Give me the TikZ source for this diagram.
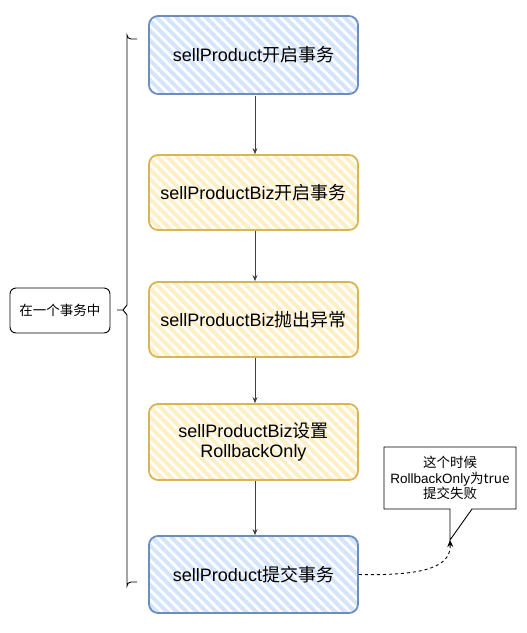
\documentclass[tikz,border=0pt]{standalone}
\usepackage{fontspec}
\setmainfont{Liberation Sans}
\newfontfamily\cjk{Noto Sans CJK SC}
\usetikzlibrary{patterns.meta,arrows.meta}
\definecolor{bluefill}{HTML}{D4E4FB}
\definecolor{blueline}{HTML}{6C8EBF}
\definecolor{yelfill}{HTML}{FFEFC2}
\definecolor{yelline}{HTML}{D6B656}
\tikzset{
  bluebox/.style={draw=blueline, line width=1.8pt, rounded corners=9pt,
    pattern={Lines[angle=-45,distance=7pt,line width=4pt]}, pattern color=bluefill,
    minimum width=209pt, minimum height=78pt, align=center, font=\fontsize{18}{20}\selectfont, inner sep=0pt},
  yelbox/.style={draw=yelline, line width=1.8pt, rounded corners=9pt,
    pattern={Lines[angle=-45,distance=7pt,line width=4pt]}, pattern color=yelfill,
    minimum width=209pt, minimum height=75pt, align=center, font=\fontsize{18}{20}\selectfont, inner sep=0pt},
  flowarrow/.style={draw=black!75, line width=0.8pt, -{Stealth[length=6pt,width=5pt]}},
  smalltext/.style={font=\fontsize{13.5}{15.5}\selectfont, align=center}
}
\begin{document}
\begin{tikzpicture}[x=1pt,y=-1pt]
\useasboundingbox (0,0) rectangle (527,633);
\node[bluebox] (b1) at (253.5,55) {sellProduct\cjk{开启事务}};
\node[yelbox] (b2) at (253.5,192.5) {sellProductBiz\cjk{开启事务}};
\node[yelbox] (b3) at (253.5,319.5) {sellProductBiz\cjk{抛出异常}};
\node[yelbox, minimum height=76pt] (b4) at (253.5,442) {sellProductBiz\cjk{设置}\\RollbackOnly};
\node[bluebox, minimum height=77pt] (b5) at (253.5,574.5) {sellProduct\cjk{提交事务}};
\draw[flowarrow] (b1.south -| 255,0) -- (b2.north -| 255,0);
\draw[flowarrow] (b2.south -| 255,0) -- (b3.north -| 255,0);
\draw[flowarrow] (b3.south -| 255,0) -- (b4.north -| 255,0);
\draw[flowarrow] (b4.south -| 255,0) -- (b5.north -| 255,0);
% brace
\coordinate (bt) at (137,39);
\coordinate (bm) at (117,310);
\coordinate (bb) at (137,582);
\draw[line width=0.9pt] (bt) -- (131,39) arc[start angle=90,end angle=180,radius=4] -- (127,305) -- (123,310) -- (bm);
\draw[line width=0.9pt] (bb) -- (131,582) arc[start angle=270,end angle=180,radius=4] -- (127,315) -- (123,310);
% left label
\node[draw, line width=0.9pt, rounded corners=6pt, minimum width=100pt, minimum height=45pt,
  font=\cjk\fontsize{13.5}{15}\selectfont] (lab) at (60,310.5) {在一个事务中};
% callout
\draw[line width=0.9pt, fill=white] (384,447) -- (516,447) -- (516,509) -- (472,509) -- (450,540)
  coordinate (tip) -- (450,509) -- (384,509) -- cycle;
\node[smalltext] (cap) at (450,478) {\cjk{这个时候}\\RollbackOnly\cjk{为}true\\\cjk{提交失败}};
\draw[line width=0.9pt, dashed, dash pattern=on 3pt off 3pt, -{Stealth[length=7pt,width=6pt]}]
  (b5.east) .. controls (430,576) and (451,565) .. (tip);
\end{tikzpicture}
\end{document}
